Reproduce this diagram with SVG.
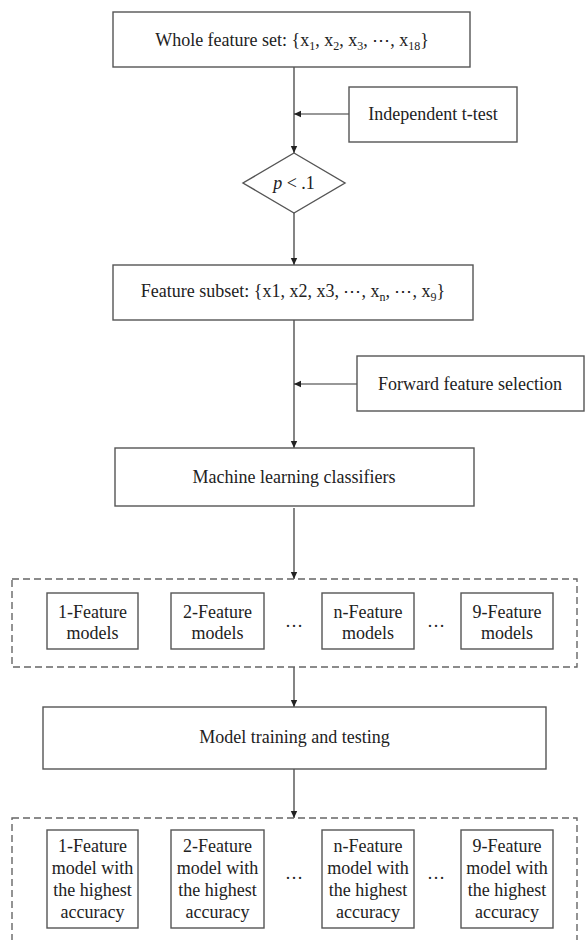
<svg xmlns="http://www.w3.org/2000/svg" width="586" height="940" viewBox="0 0 586 940">
<style>
.box{fill:#fff;stroke:#555;stroke-width:1.4}
.dash{fill:none;stroke:#666;stroke-width:1.4;stroke-dasharray:7 4}
.ln{stroke:#333;stroke-width:1.2;fill:none}
text{font-family:"Liberation Serif","Times New Roman",serif;font-size:18px;fill:#222;text-anchor:middle}
.sub{font-size:12px}
</style>
<defs>
<marker id="ah" markerWidth="8" markerHeight="8" refX="7" refY="4" orient="auto" markerUnits="userSpaceOnUse">
<path d="M0,0.8 L7,4 L0,7.2 Z" fill="#222"/>
</marker>
</defs>
<rect width="586" height="940" fill="#fff"/>
<g id="connectors">
<line class="ln" x1="294" y1="67" x2="294" y2="153" marker-end="url(#ah)"/>
<line class="ln" x1="349" y1="114" x2="294" y2="114" marker-end="url(#ah)"/>
<line class="ln" x1="294" y1="213" x2="294" y2="265" marker-end="url(#ah)"/>
<line class="ln" x1="294" y1="320" x2="294" y2="448" marker-end="url(#ah)"/>
<line class="ln" x1="357" y1="384" x2="294" y2="384" marker-end="url(#ah)"/>
<line class="ln" x1="294" y1="508" x2="294" y2="579" marker-end="url(#ah)"/>
<line class="ln" x1="294" y1="667" x2="294" y2="707" marker-end="url(#ah)"/>
<line class="ln" x1="294" y1="769" x2="294" y2="818" marker-end="url(#ah)"/>
</g>
<g id="whole">
<rect class="box" x="113" y="12" width="357" height="55"/>
<text x="292" y="46">Whole feature set: {x<tspan class="sub" dy="4">1</tspan><tspan dy="-4">, x</tspan><tspan class="sub" dy="4">2</tspan><tspan dy="-4">, x</tspan><tspan class="sub" dy="4">3</tspan><tspan dy="-4">, ⋯, x</tspan><tspan class="sub" dy="4">18</tspan><tspan dy="-4">}</tspan></text>
</g>
<g id="ttest">
<rect class="box" x="349" y="87" width="168" height="55"/>
<text x="433" y="120">Independent t-test</text>
</g>
<g id="decision">
<polygon class="box" points="294,153 345,183 294,213 243,183"/>
<text x="294" y="189"><tspan font-style="italic">p</tspan> &lt; .1</text>
</g>
<g id="subset">
<rect class="box" x="113" y="265" width="360" height="55"/>
<text x="293" y="297">Feature subset: {x1, x2, x3, ⋯, x<tspan class="sub" dy="4">n</tspan><tspan dy="-4">, ⋯, x</tspan><tspan class="sub" dy="4">9</tspan><tspan dy="-4">}</tspan></text>
</g>
<g id="forward">
<rect class="box" x="357" y="356" width="227" height="55"/>
<text x="470" y="390">Forward feature selection</text>
</g>
<g id="classifiers">
<rect class="box" x="115" y="448" width="359" height="58"/>
<text x="294" y="483">Machine learning classifiers</text>
</g>
<g id="models">
<rect class="dash" x="12" y="579" width="565" height="88"/>
<rect class="box" x="47" y="593" width="91" height="56"/>
<text x="92.5" y="618">1-Feature</text><text x="92.5" y="639">models</text>
<rect class="box" x="171" y="593" width="93" height="56"/>
<text x="217.5" y="618">2-Feature</text><text x="217.5" y="639">models</text>
<text x="294" y="627">…</text>
<rect class="box" x="322" y="593" width="92" height="56"/>
<text x="368" y="618">n-Feature</text><text x="368" y="639">models</text>
<text x="436" y="627">…</text>
<rect class="box" x="461" y="593" width="92" height="56"/>
<text x="507" y="618">9-Feature</text><text x="507" y="639">models</text>
</g>
<g id="training">
<rect class="box" x="43" y="707" width="503" height="62"/>
<text x="294.5" y="743">Model training and testing</text>
</g>
<g id="best">
<rect class="dash" x="12" y="818" width="565" height="140"/>
<rect class="box" x="47" y="830" width="91" height="98"/>
<text x="92.5" y="852">1-Feature</text><text x="92.5" y="874">model with</text><text x="92.5" y="896">the highest</text><text x="92.5" y="918">accuracy</text>
<rect class="box" x="171" y="830" width="93" height="98"/>
<text x="217.5" y="852">2-Feature</text><text x="217.5" y="874">model with</text><text x="217.5" y="896">the highest</text><text x="217.5" y="918">accuracy</text>
<text x="294" y="879">…</text>
<rect class="box" x="322" y="830" width="92" height="98"/>
<text x="368" y="852">n-Feature</text><text x="368" y="874">model with</text><text x="368" y="896">the highest</text><text x="368" y="918">accuracy</text>
<text x="436" y="879">…</text>
<rect class="box" x="461" y="830" width="92" height="98"/>
<text x="507" y="852">9-Feature</text><text x="507" y="874">model with</text><text x="507" y="896">the highest</text><text x="507" y="918">accuracy</text>
</g>
</svg>
